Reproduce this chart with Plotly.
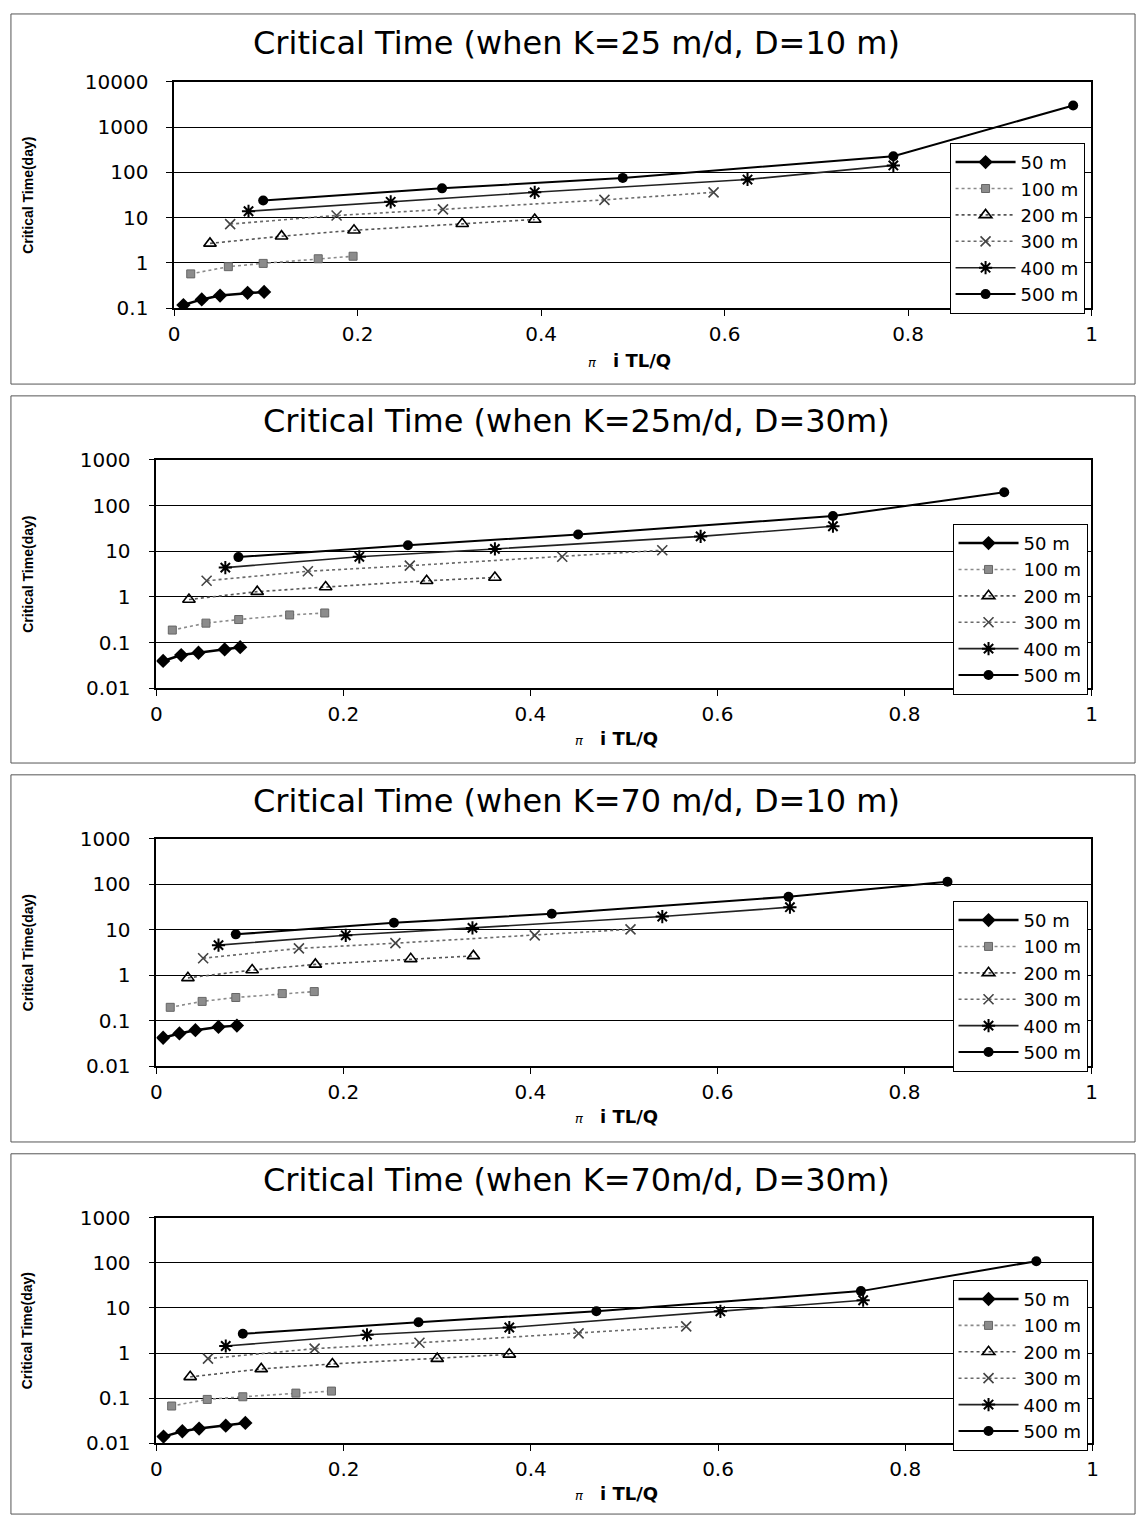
import plotly.graph_objects as go

# ---------------- data ----------------
DISTANCES = ["50 m", "100 m", "200 m", "300 m", "400 m", "500 m"]

TITLES = [
    "Critical Time (when K=25 m/d, D=10 m)",
    "Critical Time (when K=25m/d, D=30m)",
    "Critical Time (when K=70 m/d, D=10 m)",
    "Critical Time (when K=70m/d, D=30m)",
]

X_TICKVALS = [0, 0.2, 0.4, 0.6, 0.8, 1]
X_TICKTEXT = ["0", "0.2", "0.4", "0.6", "0.8", "1"]

Y1_TICKVALS = [0.1, 1, 10, 100, 1000, 10000]
Y1_TICKTEXT = ["0.1", "1", "10", "100", "1000", "10000"]
Y2_TICKVALS = [0.01, 0.1, 1, 10, 100, 1000]
Y2_TICKTEXT = ["0.01", "0.1", "1", "10", "100", "1000"]

# Panel 1: K=25 m/d, D=10 m
P1_X = [
    [0.010, 0.030, 0.050, 0.080, 0.098],
    [0.018, 0.059, 0.097, 0.157, 0.195],
    [0.039, 0.117, 0.196, 0.314, 0.393],
    [0.061, 0.177, 0.293, 0.469, 0.588],
    [0.081, 0.236, 0.393, 0.625, 0.784],
    [0.097, 0.292, 0.489, 0.784, 0.980],
]
P1_Y = [
    [0.118, 0.157, 0.191, 0.219, 0.230],
    [0.575, 0.83, 0.98, 1.24, 1.41],
    [2.71, 3.91, 5.27, 7.36, 9.14],
    [7.24, 11.2, 15.3, 24.8, 36.4],
    [13.9, 22.5, 36.4, 69.8, 143],
    [24.0, 44.5, 75.8, 228, 3013],
]

# Panel 2: K=25 m/d, D=30 m
P2_X = [
    [0.0072, 0.0265, 0.045, 0.073, 0.0896],
    [0.017, 0.053, 0.088, 0.1425, 0.180],
    [0.0348, 0.1078, 0.181, 0.289, 0.362],
    [0.0537, 0.162, 0.271, 0.434, 0.541],
    [0.0737, 0.217, 0.362, 0.582, 0.7235],
    [0.0877, 0.269, 0.451, 0.7235, 0.9067],
]
P2_Y = [
    [0.0395, 0.0533, 0.0598, 0.0706, 0.0793],
    [0.1875, 0.266, 0.319, 0.402, 0.444],
    [0.875, 1.30, 1.64, 2.25, 2.66],
    [2.25, 3.64, 4.82, 7.55, 10.5],
    [4.37, 7.55, 11.2, 21.1, 35.2],
    [7.43, 13.5, 23.3, 58.9, 195],
]

# Panel 3: K=70 m/d, D=10 m
P3_X = [
    [0.0072, 0.0246, 0.0417, 0.0664, 0.0861],
    [0.0148, 0.0489, 0.0849, 0.1346, 0.1688],
    [0.0337, 0.1024, 0.170, 0.272, 0.339],
    [0.050, 0.1524, 0.2556, 0.4046, 0.507],
    [0.0664, 0.2025, 0.338, 0.541, 0.6775],
    [0.0849, 0.254, 0.4228, 0.676, 0.846],
]
P3_Y = [
    [0.0422, 0.0524, 0.0618, 0.073, 0.078],
    [0.197, 0.266, 0.324, 0.395, 0.437],
    [0.875, 1.30, 1.73, 2.29, 2.66],
    [2.37, 3.89, 5.07, 7.55, 10.2],
    [4.59, 7.55, 11.0, 19.5, 31.4],
    [7.93, 14.2, 22.5, 53.3, 114],
]

# Panel 4: K=70 m/d, D=30 m
P4_X = [
    [0.0076, 0.0277, 0.0456, 0.0741, 0.095],
    [0.0163, 0.0543, 0.0923, 0.149, 0.187],
    [0.0361, 0.112, 0.188, 0.300, 0.377],
    [0.0551, 0.169, 0.281, 0.451, 0.566],
    [0.0741, 0.225, 0.377, 0.6025, 0.755],
    [0.0923, 0.280, 0.470, 0.7526, 0.940],
]
P4_Y = [
    [0.0140, 0.0184, 0.0211, 0.0245, 0.0281],
    [0.0667, 0.0935, 0.107, 0.129, 0.143],
    [0.296, 0.444, 0.572, 0.750, 0.935],
    [0.750, 1.25, 1.69, 2.72, 3.9],
    [1.43, 2.54, 3.68, 8.4, 14.8],
    [2.67, 4.83, 8.44, 23.6, 109],
]

# ---------------- styling / layout ----------------
W, H = 1144, 1529
FONT = "DejaVu Sans"


def px(x):
    return x / W


def py(y):
    return 1 - y / H


STYLES = [
    dict(line=dict(color="black", width=2.5, dash="solid"),
         marker=dict(symbol="diamond", size=11, color="black")),
    dict(line=dict(color="#8a8a8a", width=1.6, dash="dot"),
         marker=dict(symbol="square", size=8, color="#8c8c8c",
                     line=dict(color="#666666", width=1))),
    dict(line=dict(color="#555555", width=1.6, dash="dot"),
         marker=dict(symbol="triangle-up-open", size=11, color="black",
                     line=dict(color="black", width=1.6))),
    dict(line=dict(color="#6a6a6a", width=1.6, dash="dot"),
         marker=dict(symbol="x-thin-open", size=10, color="#444444",
                     line=dict(color="#444444", width=1.6))),
    dict(line=dict(color="#222222", width=1.6, dash="solid"),
         marker=dict(symbol="asterisk-open", size=11, color="black",
                     line=dict(color="black", width=2))),
    dict(line=dict(color="black", width=2, dash="solid"),
         marker=dict(symbol="circle", size=10, color="black")),
]

PANELS = [
    dict(X=P1_X, Y=P1_Y, tv=Y1_TICKVALS, tt=Y1_TICKTEXT, yr=[-1, 4],
         plot=(170, 1097, 71, 301), box=(5, 1141, 2, 378),
         title_y=32, xt=(630, 354), leg=(1090, 133)),
    dict(X=P2_X, Y=P2_Y, tv=Y2_TICKVALS, tt=Y2_TICKTEXT, yr=[-2, 3],
         plot=(152, 1097, 455, 687), box=(5, 1141, 390, 763),
         title_y=416, xt=(617, 738), leg=(1093, 520)),
    dict(X=P3_X, Y=P3_Y, tv=Y2_TICKVALS, tt=Y2_TICKTEXT, yr=[-2, 3],
         plot=(152, 1097, 840, 1071), box=(5, 1141, 775, 1148),
         title_y=802, xt=(617, 1122), leg=(1093, 903)),
    dict(X=P4_X, Y=P4_Y, tv=Y2_TICKVALS, tt=Y2_TICKTEXT, yr=[-2, 3],
         plot=(152, 1098, 1225, 1454), box=(5, 1141, 1160, 1526),
         title_y=1187, xt=(617, 1505), leg=(1093, 1288)),
]

fig = go.Figure()
layout = dict(width=W, height=H, autosize=False,
              margin=dict(l=0, r=0, t=0, b=0),
              paper_bgcolor="white", plot_bgcolor="white",
              showlegend=True)
annotations = []
shapes = []

for i, p in enumerate(PANELS):
    n = "" if i == 0 else str(i + 1)
    xa, ya = "x" + n, "y" + n
    leg = "legend" + n
    for k, name in enumerate(DISTANCES):
        fig.add_trace(go.Scatter(
            x=p["X"][k], y=p["Y"][k], name=name, mode="lines+markers",
            line=STYLES[k]["line"], marker=STYLES[k]["marker"],
            xaxis=xa, yaxis=ya, legend=leg))
    x0, x1, y0, y1 = p["plot"]
    layout["xaxis" + n] = dict(
        domain=[px(x0), px(x1)], anchor=ya, range=[0, 1],
        tickvals=X_TICKVALS, ticktext=X_TICKTEXT,
        ticks="outside", ticklen=6, tickcolor="black", tickwidth=1.2,
        tickfont=dict(family=FONT, size=20, color="black"),
        ticklabelstandoff=1,
        showgrid=False, zeroline=False,
        showline=True, linecolor="black", linewidth=1.6, mirror=True)
    layout["yaxis" + n] = dict(
        domain=[py(y1), py(y0)], anchor=xa, type="log", range=p["yr"],
        tickvals=p["tv"], ticktext=p["tt"],
        ticks="outside", ticklen=6, tickcolor="black", tickwidth=1.2,
        tickfont=dict(family=FONT, size=20, color="black"),
        ticklabelstandoff=14,
        showgrid=True, gridcolor="black", gridwidth=1.2, zeroline=False,
        showline=True, linecolor="black", linewidth=1.6, mirror=True)
    lx, ly = p["leg"]
    layout[leg] = dict(
        x=px(lx), y=py(ly), xanchor="right", yanchor="top",
        bgcolor="white", bordercolor="black", borderwidth=1,
        font=dict(family=FONT, size=18, color="black"),
        tracegroupgap=0, itemwidth=60, entrywidth=90,
        entrywidthmode="pixels")
    bx0, bx1, by0, by1 = p["box"]
    shapes.append(dict(type="rect", xref="paper", yref="paper",
                       x0=px(bx0), x1=px(bx1), y0=py(by1), y1=py(by0),
                       line=dict(color="#555555", width=1)))
    annotations.append(dict(
        text=TITLES[i], xref="paper", yref="paper",
        x=px(577), y=py(p["title_y"]), xanchor="center", yanchor="middle",
        showarrow=False, font=dict(family=FONT, size=32, color="black")))
    xtx, xty = p["xt"]
    annotations.append(dict(
        text="<span style='font-size:13px'><i>π</i></span>   <b>i TL/Q</b>",
        xref="paper", yref="paper", x=px(xtx), y=py(xty),
        xanchor="center", yanchor="middle", showarrow=False,
        font=dict(family=FONT, size=18, color="black")))
    annotations.append(dict(
        text="<b>Critical Time(day)</b>", xref="paper", yref="paper",
        x=px(22), y=py((y0 + y1) / 2), xanchor="center", yanchor="middle",
        textangle=-90, showarrow=False,
        font=dict(family="Liberation Sans", size=14, color="black")))

layout["annotations"] = annotations
layout["shapes"] = shapes
fig.update_layout(**layout)

fig.write_html("out.html",
               post_script="document.body.style.margin='0';"
                           "document.documentElement.style.margin='0';")
